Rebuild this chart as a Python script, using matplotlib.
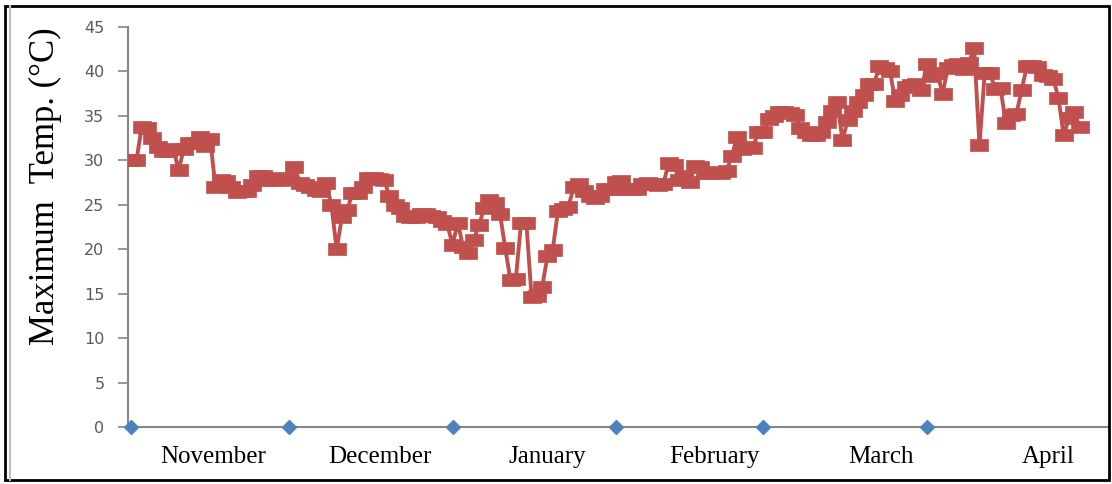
import numpy as np
import matplotlib
matplotlib.use("Agg")
import matplotlib.pyplot as plt
from matplotlib.patches import Rectangle
from matplotlib.lines import Line2D

# Daily maximum temperature [deg C], one list per month
nov = [30.0, 30.0, 33.7, 33.6, 32.5, 31.5, 31.0, 31.0, 31.3, 28.9,
       31.3, 31.9, 32.0, 32.6, 31.6, 32.4, 27.0, 27.8, 27.7, 27.0,
       26.4, 26.6, 26.6, 27.2, 28.2, 28.2, 27.8, 27.8, 28.0, 27.9]
dec = [27.8, 29.2, 27.5, 27.2, 27.0, 26.7, 26.6, 27.4, 25.0, 20.0,
       23.6, 24.4, 26.3, 26.3, 27.0, 28.0, 28.0, 27.9, 27.8, 26.0,
       25.0, 24.6, 23.7, 23.6, 23.6, 24.0, 24.0, 23.7, 23.6, 23.2, 22.8]
jan = [20.5, 23.0, 20.2, 19.6, 21.0, 22.7, 24.6, 25.5, 25.2, 24.0,
       20.1, 16.5, 16.6, 23.0, 23.0, 14.6, 14.7, 15.7, 19.2, 19.9,
       24.3, 24.5, 24.8, 27.0, 27.3, 26.5, 26.0, 25.8, 26.0, 26.8, 26.8]
feb = [27.6, 27.7, 26.8, 26.8, 26.8, 27.3, 27.4, 27.3, 27.2, 27.3,
       29.7, 29.5, 27.8, 28.2, 27.6, 29.4, 29.3, 28.6, 28.6, 28.7,
       28.6, 28.8, 30.5, 32.6, 31.3, 31.5, 31.4, 33.2]
mar = [33.2, 34.6, 35.0, 35.4, 35.4, 35.3, 35.1, 33.6, 33.2, 32.9,
       32.9, 33.2, 34.3, 35.6, 36.6, 32.3, 34.5, 35.6, 36.6, 37.4,
       38.6, 38.6, 40.6, 40.4, 40.1, 36.7, 37.4, 38.2, 38.5, 38.6, 37.9]
apr = [40.8, 39.5, 39.8, 37.5, 40.4, 40.7, 40.8, 40.3, 41.0, 42.6,
       31.7, 39.8, 39.8, 38.0, 38.1, 34.2, 35.1, 35.2, 37.9, 40.6,
       40.6, 40.5, 39.6, 39.5, 39.2, 37.0, 32.8, 34.8, 35.4, 33.7]

months = ["November", "December", "January", "February", "March", "April"]
month_days = [30, 31, 31, 28, 31, 30]
# second series: markers at 0 on the first day of each month
month_marks = [0, 0, 0, 0, 0, 0]

RED = "#C0504D"
BLUE = "#4F81BD"
GREY = "#868686"

temps = nov + dec + jan + feb + mar + apr
days = np.arange(len(temps))
month_starts = np.cumsum([0] + month_days[:-1])

fig = plt.figure(figsize=(11.12, 4.84), dpi=100)
ax = fig.add_axes([128 / 1112, 57 / 484, 980 / 1112, 400 / 484])

# wide rectangular marker like in the original
rect = [(-1.45, -1), (1.45, -1), (1.45, 1), (-1.45, 1), (-1.45, -1)]
ax.plot(days, temps, color=RED, lw=2.8, marker=rect, ms=13,
        mfc=RED, mec=RED, mew=0.5, zorder=3)
ax.plot(month_starts, month_marks, ls="none", marker="D", ms=7.5,
        color=BLUE, clip_on=False, zorder=5)

ax.set_ylim(0, 45)
ax.set_yticks(range(0, 46, 5))
ax.set_xlim(-0.6, 185.4)

# month names sit evenly spaced under the axis
label_pos = 15.6 + 31.7 * np.arange(len(months))
ax.set_xticks(label_pos)
ax.set_xticklabels(months, fontfamily="Liberation Serif", fontsize=18)
ax.tick_params(axis="x", length=0, pad=14)
ax.tick_params(axis="y", direction="out", length=7, width=1.2, color=GREY,
               labelcolor="#595959", labelsize=11.5, pad=10)

for side in ["top", "right"]:
    ax.spines[side].set_visible(False)
for side in ["left", "bottom"]:
    ax.spines[side].set_color(GREY)
    ax.spines[side].set_linewidth(1.5)

fig.text(45 / 1112, 1 - 186 / 484, "Maximum  Temp. (°C)", rotation=90,
         ha="center", va="center", fontfamily="Liberation Serif", fontsize=25)

# frame round the whole picture
fig.patches.append(Rectangle((5 / 1112, 4 / 484), 1104 / 1112, 474 / 484,
                             transform=fig.transFigure, fill=False,
                             edgecolor="black", linewidth=2))
fig.lines.append(Line2D([10 / 1112, 10 / 1112], [4 / 484, 478 / 484],
                        transform=fig.transFigure, color="#BFBFBF", lw=1.5))

fig.savefig("out.png", dpi=100)
